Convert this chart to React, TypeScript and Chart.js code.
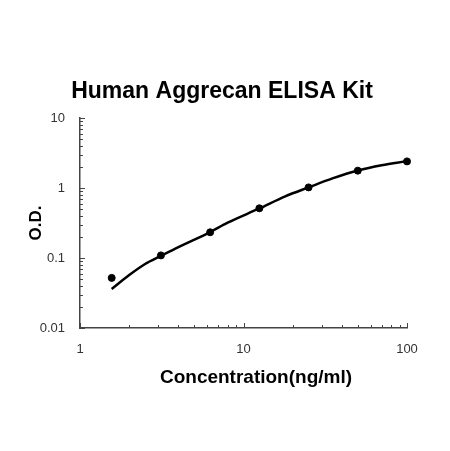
import React, { useEffect, useRef } from 'react';
import { Chart, registerables } from 'chart.js';

Chart.register(...registerables);

// standards (ng/ml) and measured O.D.
const concentrations = [1.5625, 3.125, 6.25, 12.5, 25, 50, 100];
const odValues = [0.052, 0.109, 0.233, 0.513, 1.02, 1.77, 2.4];

// fitted curve
const curveX = [1.5625, 2, 2.5, 3.125, 4, 6.25, 8, 12.5, 18, 25, 35, 50, 70, 100];
const curveY = [0.036, 0.057, 0.082, 0.107, 0.143, 0.235, 0.32, 0.51, 0.76, 1.02, 1.37, 1.78, 2.12, 2.42];

const xTicks = [1, 10, 100];
const yTicks = [0.01, 0.1, 1, 10];

const chartTitle = 'Human Aggrecan ELISA Kit';
const xTitle = 'Concentration(ng/ml)';
const yTitle = 'O.D.';

const FONT = "'Liberation Sans', Arial, sans-serif";

// small inward tick marks on the log axes
const innerTicks = {
  id: 'innerTicks',
  afterDraw(chart: any) {
    const { ctx, chartArea, scales } = chart;
    ctx.save();
    ctx.strokeStyle = '#444';
    ctx.lineWidth = 1;
    const xVals: number[] = [];
    for (let d = 1; d < 100; d *= 10) for (let k = 1; k <= 9; k++) xVals.push(d * k);
    xVals.push(100);
    xVals.forEach((v) => {
      const x = Math.round(scales.x.getPixelForValue(v)) + 0.5;
      const len = Math.log10(v) % 1 === 0 ? 5 : 3;
      ctx.beginPath();
      ctx.moveTo(x, chartArea.bottom);
      ctx.lineTo(x, chartArea.bottom - len);
      ctx.stroke();
    });
    const yVals: number[] = [];
    for (let d = 0.01; d < 9; d *= 10) for (let k = 1; k <= 9; k++) yVals.push(d * k);
    yVals.push(10);
    yVals.forEach((v, i) => {
      const y = Math.round(scales.y.getPixelForValue(v)) + 0.5;
      const len = i % 9 === 0 ? 5 : 3;
      ctx.beginPath();
      ctx.moveTo(chartArea.left, y);
      ctx.lineTo(chartArea.left + len, y);
      ctx.stroke();
    });
    ctx.restore();
  },
};

// chart title and x axis title
const titles = {
  id: 'titles',
  afterDraw(chart: any) {
    const { ctx } = chart;
    ctx.save();
    ctx.fillStyle = '#000';
    ctx.textAlign = 'center';
    ctx.textBaseline = 'alphabetic';
    ctx.font = `bold 23px ${FONT}`;
    ctx.fillText(chartTitle, 222, 98);
    ctx.font = `bold 19px ${FONT}`;
    ctx.fillText(xTitle, 256, 383);
    ctx.restore();
  },
};

const App = () => {
  const chartRef = useRef<HTMLCanvasElement | null>(null);
  const chartInstanceRef = useRef<Chart | null>(null);

  useEffect(() => {
    const canvas = chartRef.current;
    if (!canvas) return;
    const ctx = canvas.getContext('2d');
    if (!ctx) return;

    if (chartInstanceRef.current) {
      chartInstanceRef.current.destroy();
    }

    chartInstanceRef.current = new Chart(ctx, {
      type: 'scatter',
      data: {
        datasets: [
          {
            label: 'Curve',
            data: curveX.map((x, i) => ({ x, y: curveY[i] })),
            showLine: true,
            borderColor: '#000',
            borderWidth: 2.5,
            pointRadius: 0,
            cubicInterpolationMode: 'monotone',
            clip: false,
          },
          {
            label: 'Standards',
            data: concentrations.map((x, i) => ({ x, y: odValues[i] })),
            showLine: false,
            backgroundColor: '#000',
            borderColor: '#000',
            pointRadius: 3.5,
            clip: false,
          },
        ],
      },
      options: {
        animation: false,
        responsive: false,
        layout: { padding: { left: 0, right: 43, top: 118, bottom: 0 } },
        plugins: {
          legend: { display: false },
          tooltip: { enabled: false },
          title: { display: false },
        },
        scales: {
          x: {
            type: 'logarithmic',
            min: 1,
            max: 100,
            afterBuildTicks: (scale: any) => {
              scale.ticks = xTicks.map((value) => ({ value }));
            },
            afterFit: (scale: any) => {
              scale.height = 123;
            },
            ticks: {
              callback: (v: any) => String(v),
              color: '#333',
              font: { family: FONT, size: 13 },
              padding: 14,
              maxRotation: 0,
              autoSkip: false,
            },
            grid: { drawOnChartArea: false, drawTicks: false },
            border: { display: true, color: '#444', width: 1.5 },
          },
          y: {
            type: 'logarithmic',
            min: 0.01,
            max: 10,
            afterBuildTicks: (scale: any) => {
              scale.ticks = yTicks.map((value) => ({ value }));
            },
            afterFit: (scale: any) => {
              scale.width = 80;
            },
            ticks: {
              callback: (v: any) => String(v),
              color: '#333',
              font: { family: FONT, size: 13 },
              padding: 15,
              autoSkip: false,
            },
            grid: { drawOnChartArea: false, drawTicks: false },
            border: { display: true, color: '#444', width: 1.5 },
            title: {
              display: true,
              text: yTitle,
              color: '#000',
              font: { family: FONT, size: 17, weight: 'bold' },
              padding: { top: 26, bottom: 0 },
            },
          },
        },
      },
      plugins: [innerTicks, titles],
    } as any);

    return () => {
      if (chartInstanceRef.current) {
        chartInstanceRef.current.destroy();
        chartInstanceRef.current = null;
      }
    };
  }, []);

  return (
    <div style={{ position: 'absolute', left: 0, top: 0, width: 450, height: 451, background: '#fff' }}>
      <canvas ref={chartRef} width={450} height={451} style={{ width: 450, height: 451 }}></canvas>
    </div>
  );
};

export default App;
